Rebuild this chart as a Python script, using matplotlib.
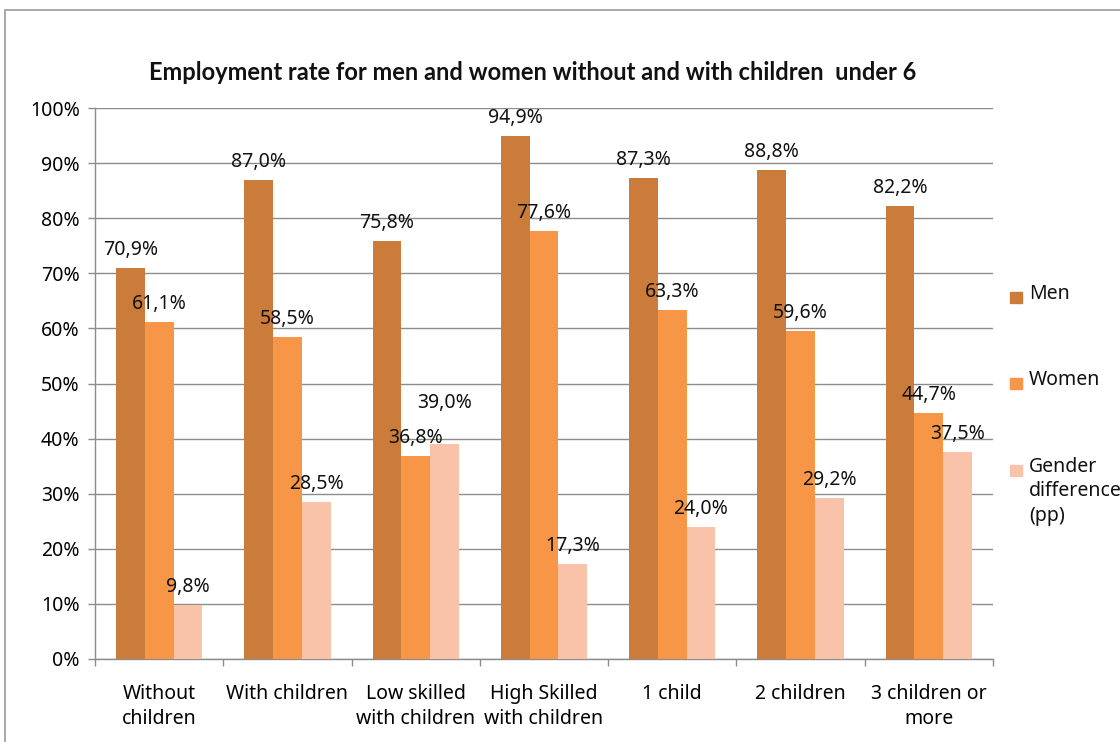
import matplotlib.pyplot as plt
from matplotlib.patches import Rectangle
import numpy as np

plt.rcParams['font.family'] = ['Noto Sans', 'DejaVu Sans']

categories = ['Without\nchildren', 'With children', 'Low skilled\nwith children',
              'High Skilled\nwith children', '1 child', '2 children', '3 children or\nmore']
men = [70.9, 87.0, 75.8, 94.9, 87.3, 88.8, 82.2]
women = [61.1, 58.5, 36.8, 77.6, 63.3, 59.6, 44.7]
gender_diff = [9.8, 28.5, 39.0, 17.3, 24.0, 29.2, 37.5]
series_names = ['Men', 'Women', 'Gender\ndifference\n(pp)']
colors = ['#CB7B3A', '#F79646', '#F9C3A9']

fig = plt.figure(figsize=(11.2, 7.42), dpi=100)
ax = fig.add_axes([95 / 1120, 1 - 659 / 742, (993 - 95) / 1120, (659 - 108) / 742])

# chart border (like the excel chart area)
fig.patches.append(Rectangle((5 / 1120, -0.1), 1.2, 1 - 10 / 742 + 0.1,
                             transform=fig.transFigure, fill=False,
                             edgecolor='#9a9a9a', linewidth=1.2))

x = np.arange(len(categories))
w = 0.224
series = [men, women, gender_diff]
for k, vals in enumerate(series):
    xs = x + (k - 1) * w
    ax.bar(xs, vals, width=w, color=colors[k], zorder=3)
    for j, v in enumerate(vals):
        dy = 13
        if k == 2 and j == 2:
            dy = 29.5  # label moved up to avoid overlap
        ax.annotate(('%.1f%%' % v).replace('.', ','), (xs[j], v),
                    xytext=(0, dy), textcoords='offset points',
                    ha='center', va='center', fontsize=14, color='#111111', zorder=4)

ax.set_xlim(-0.5, len(categories) - 0.5)
ax.set_ylim(0, 100)
ax.set_yticks(np.arange(0, 101, 10))
ax.set_yticklabels(['%d%%' % t for t in range(0, 101, 10)], fontsize=14)
ax.yaxis.grid(True, color='#8c8c8c', linewidth=1, zorder=0)

ax.set_xticks(x)
ax.set_xticklabels(categories, fontsize=14, linespacing=1.3)
ax.set_xticks(np.arange(-0.5, len(categories)), minor=True)
ax.tick_params(axis='x', which='major', length=0, pad=18)
ax.tick_params(axis='x', which='minor', length=5, color='#8c8c8c', width=1)
ax.tick_params(axis='y', length=5, color='#8c8c8c', width=1, pad=6)

for s in ['top', 'right']:
    ax.spines[s].set_visible(False)
for s in ['left', 'bottom']:
    ax.spines[s].set_color('#8c8c8c')
    ax.spines[s].set_linewidth(1)

fig.text(533 / 1120, 1 - 72 / 742,
         'Employment rate for men and women without and with children  under 6',
         ha='center', va='center', fontsize=17, fontweight='bold', color='#111111',
         family=['Lato', 'DejaVu Sans'])

# legend
legend_y = [297, 383, 470]
for k, name in enumerate(series_names):
    yc = legend_y[k]
    fig.patches.append(Rectangle((1010 / 1120, 1 - (yc + 6) / 742), 12 / 1120, 11 / 742,
                                 transform=fig.transFigure, color=colors[k]))
    fig.text(1029 / 1120, 1 - (yc - 13) / 742, name, ha='left', va='top',
             fontsize=14, color='#111111', linespacing=1.3)

fig.savefig('out.png', dpi=100)
